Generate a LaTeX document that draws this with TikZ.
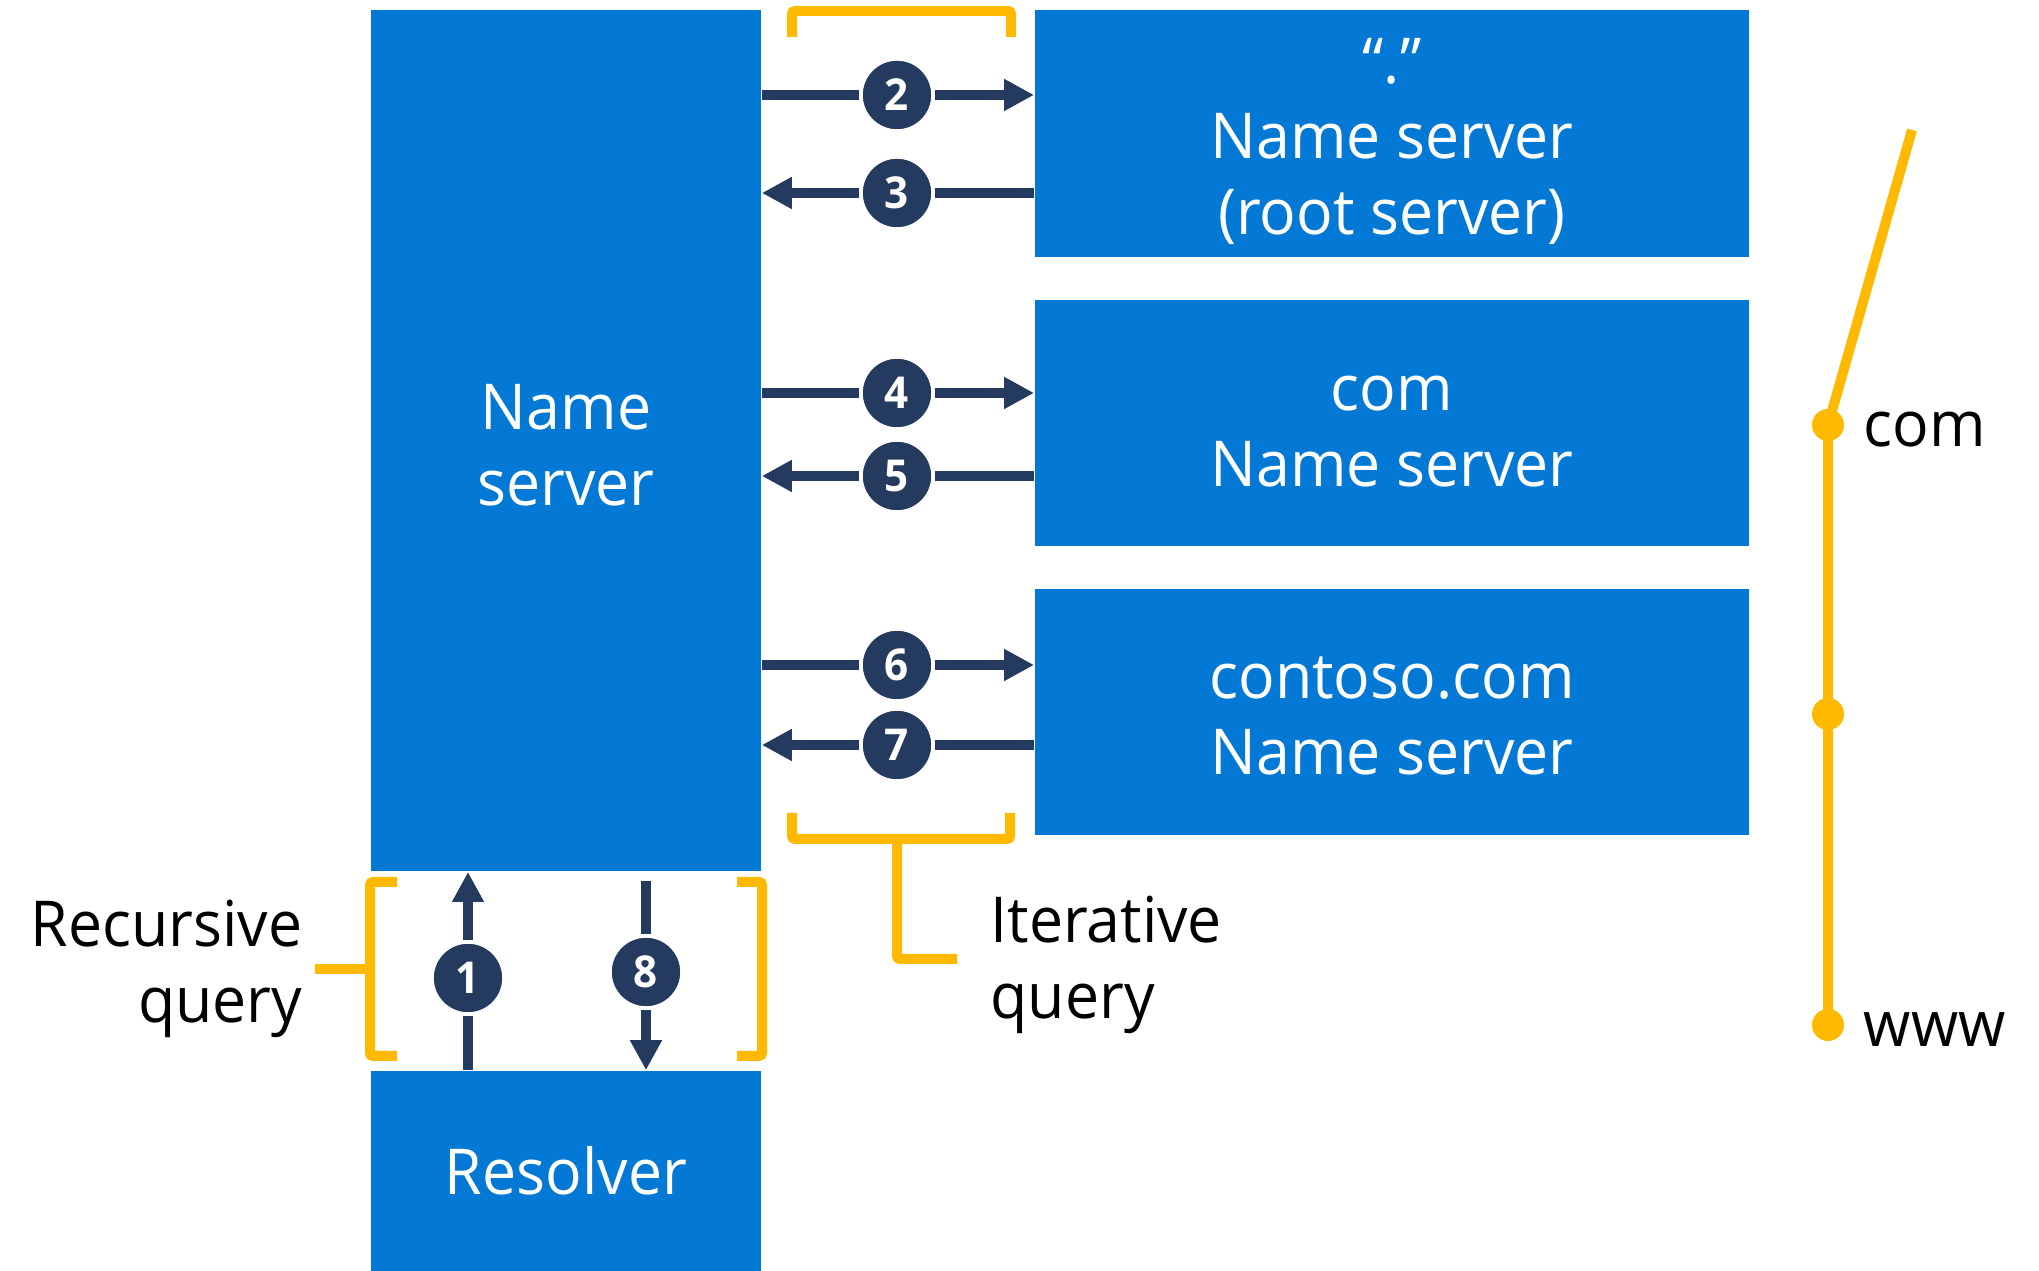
\documentclass[tikz,border=0pt]{standalone}
\usepackage{fontspec}
\setmainfont{Open Sans}[FakeStretch=0.96]
\usetikzlibrary{arrows.meta}
\definecolor{msblue}{RGB}{3,120,212}
\definecolor{navy}{RGB}{36,58,94}
\definecolor{gold}{RGB}{255,185,0}
\newcommand\lift[1]{\rule{0pt}{#1}}
\tikzset{
 box/.style={fill=msblue, text=white, inner sep=0pt, align=center, font=\fontsize{18}{21.6}\selectfont},
 num/.style={circle, fill=navy, draw=white, line width=1pt, text=white, minimum size=0.72cm, inner sep=0pt, font=\fontsize{12.5}{14}\selectfont\bfseries},
 link/.style={navy, line width=0.1cm},
 arr/.style={link, -{Triangle[length=0.3cm, width=0.3cm]}},
 bracket/.style={gold, line width=0.1cm, rounded corners=0.03cm},
 dot/.style={circle, fill=gold, minimum size=0.32cm, inner sep=0pt},
 caption/.style={inner sep=0pt, font=\fontsize{18}{21.6}\selectfont}
}
\begin{document}
\begin{tikzpicture}[x=0.01cm, y=-0.01cm]
\useasboundingbox (0,0) rectangle (2039,1271);

\node[box, minimum width=3.9cm, minimum height=8.61cm] (ns) at (566,440.5) {\lift{0.55cm}Name\\server};
\node[box, minimum width=3.9cm, minimum height=2cm] (res) at (566,1171) {Resolver};
\node[box, minimum width=7.14cm, minimum height=2.47cm] (root) at (1392,133.5) {\lift{0.61cm}“.”\\Name server\\(root server)};
\node[box, minimum width=7.14cm, minimum height=2.46cm] (com) at (1392,423) {\lift{0.52cm}com\\Name server};
\node[box, minimum width=7.14cm, minimum height=2.46cm] (cont) at (1392,712) {\lift{0.5cm}contoso.com\\Name server};

\node[num] (n1) at (468,978) {1};
\node[num] (n2) at (897,95) {2};
\node[num] (n3) at (897,193) {3};
\node[num] (n4) at (897,393) {4};
\node[num] (n5) at (897,476) {5};
\node[num] (n6) at (897,665) {6};
\node[num] (n7) at (897,745) {7};
\node[num] (n8) at (646,972) {8};

\foreach \a/\b in {2/root,4/com,6/cont} {
 \draw[link] (ns.east |- n\a) -- (n\a);
 \draw[arr] (n\a) -- (\b.west |- n\a);
}
\foreach \a/\b in {3/root,5/com,7/cont} {
 \draw[link] (\b.west |- n\a) -- (n\a);
 \draw[arr] (n\a) -- (ns.east |- n\a);
}
\draw[link] (res.north -| n1) -- (n1);
\draw[arr] (n1) -- (ns.south -| n1);
\draw[link, shorten <=0.09cm] (ns.south -| n8) -- (n8);
\draw[arr] (n8) -- (res.north -| n8);

\draw[bracket] (792,37) -- (792,11) -- (1011,11) -- (1011,37);
\draw[bracket] (792,813) -- (792,839) -- (1010,839) -- (1010,813);
\draw[bracket] (897,839) -- (897,959) -- (957,959);
\draw[bracket] (397,882) -- (370,882) -- (370,1056) -- (397,1056);
\draw[bracket] (315,969) -- (370,969);
\draw[bracket] (737,882) -- (762,882) -- (762,1056) -- (737,1056);

\node[caption, anchor=east, align=right] (rec) at (303,969) {Recursive\\query};
\node[caption, anchor=west, align=left] (iter) at (990,965) {Iterative\\query};

\coordinate (top) at (1912,130);
\node[dot] (d1) at (1828,425) {};
\node[dot] (d2) at (1828,714) {};
\node[dot] (d3) at (1828,1025) {};
\draw[gold, line width=0.1cm] (top) -- (d1.center) -- (d3.center);
\node[caption, anchor=base west] (comlbl) at (1863,447) {com};
\node[caption, anchor=base west] (wwwlbl) at (1863,1047) {www};
\end{tikzpicture}
\end{document}
